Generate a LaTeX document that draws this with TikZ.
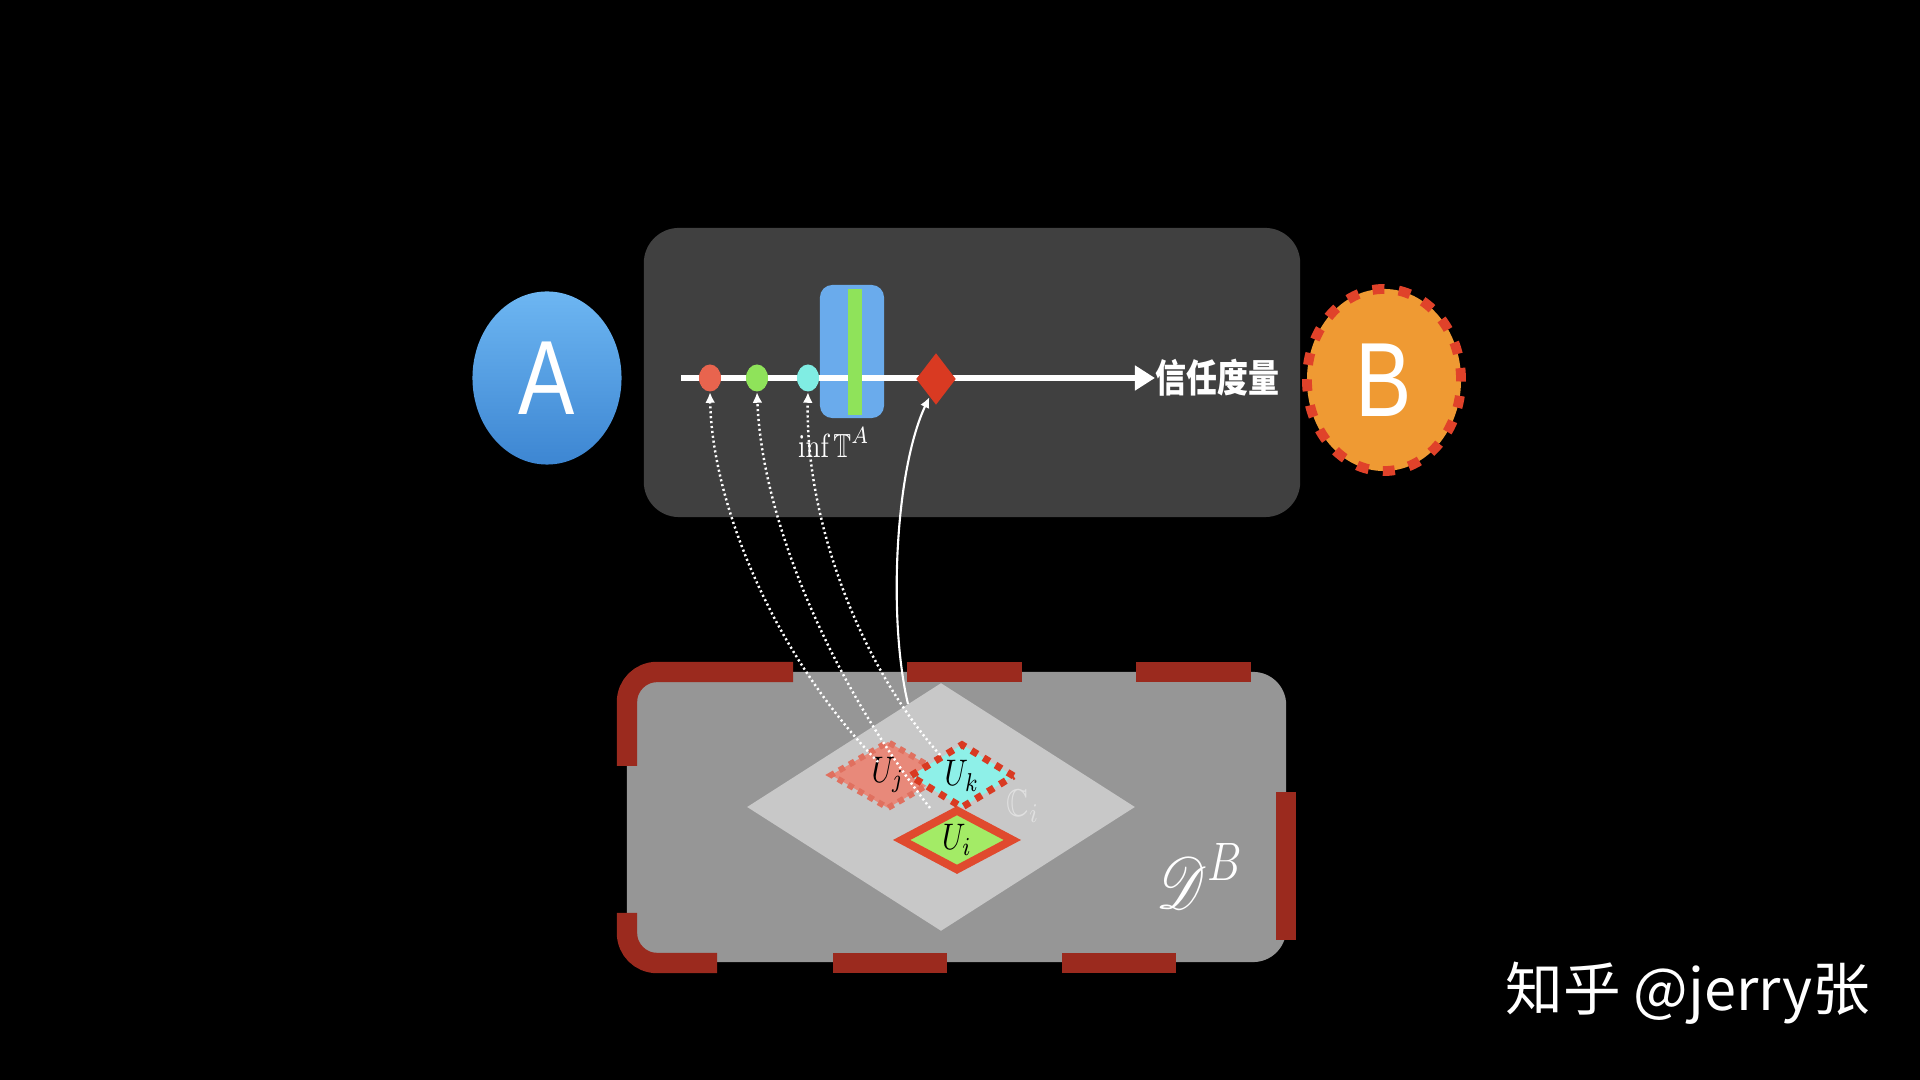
\RequirePackage{fix-cm}
\documentclass[tikz,border=0pt]{standalone}
\usepackage{fontspec}
\usepackage{amssymb}
\usepackage{mathrsfs}
\usetikzlibrary{arrows.meta, shapes.geometric}
\newfontfamily\sansA{Liberation Sans}
\newfontfamily\cjk{Noto Sans CJK SC}
\definecolor{panelgray}{HTML}{404040}
\definecolor{boxgray}{HTML}{969696}
\definecolor{cgray}{HTML}{C8C8C8}
\definecolor{rimred}{HTML}{9B2A1E}
\definecolor{atop}{HTML}{6DB6F2}
\definecolor{abot}{HTML}{3D86D2}
\definecolor{borange}{HTML}{EF9A33}
\definecolor{bdash}{HTML}{E0422A}
\definecolor{dotred}{HTML}{E8644E}
\definecolor{dotgreen}{HTML}{8FE35A}
\definecolor{dotcyan}{HTML}{80EDE3}
\definecolor{bandblue}{HTML}{6AABEC}
\definecolor{rhombred}{HTML}{D93A22}
\definecolor{ujfill}{HTML}{E8897A}
\definecolor{ujrim}{HTML}{E0705F}
\definecolor{ukfill}{HTML}{8EF0E8}
\definecolor{uifill}{HTML}{A3EB66}
\definecolor{uirim}{HTML}{E04A2E}
\tikzset{
  panel/.style={rectangle,rounded corners=10pt,fill=panelgray,inner sep=0pt},
  dotnode/.style={ellipse,minimum width=0.22cm,minimum height=0.27cm,inner sep=0pt},
  udiam/.style={diamond,inner sep=0pt,font=\fontsize{10.5}{12}\selectfont},
  axisline/.style={-{Triangle[length=5.7pt,width=6.8pt]},white,line width=1.85pt},
  ptrdot/.style={-{Latex[length=3pt,width=2.8pt]},white,line width=0.7pt,dash pattern=on 0.6pt off 0.8pt},
  ptrline/.style={-{Latex[length=3pt,width=2.8pt]},white,line width=0.6pt},
  rimdash/.style={rimred,line width=5.8pt},
}

\begin{document}
\begin{tikzpicture}[x=0.01cm,y=-0.01cm]
  \useasboundingbox (0,0) rectangle (1920,1080);
  \fill[black] (0,0) rectangle (1920,1080);
  \node[panel,minimum width=6.56cm,minimum height=2.89cm] (nPanel) at (972,372.5) {};
  \node[ellipse,top color=atop,bottom color=abot,minimum width=1.49cm,minimum height=1.73cm,inner sep=0pt,text=white] (nA) at (547,378) {\scalebox{0.8}[1]{\sansA\fontsize{30}{30}\selectfont A}};
  \node[ellipse,fill=borange,draw=bdash,line width=2.8pt,dash pattern=on 3.4pt off 4.1pt,minimum width=1.54cm,minimum height=1.82cm,inner sep=0pt,text=white] (nB) at (1384,380) {\scalebox{0.8}[1]{\sansA\fontsize{30}{30}\selectfont B}};
  \node[rectangle,rounded corners=3.5pt,fill=bandblue,minimum width=0.64cm,minimum height=1.33cm,inner sep=0pt] (nBand) at (852,351.5) {};
  \coordinate (cAx) at (681,378);
  \node[anchor=west,inner sep=0pt,text=white] (nTrust) at (1155,378) {\scalebox{0.8}[1]{\cjk\bfseries\fontsize{11}{11}\selectfont 信任度量}};
  \draw[axisline] (cAx) -- (nTrust.west);
  \node[rectangle,fill=dotgreen,minimum width=0.14cm,minimum height=1.26cm,inner sep=0pt] (nBar) at (855,352) {};
  \node[dotnode,fill=dotred] (nRed) at (710,378) {};
  \node[dotnode,fill=dotgreen] (nGreen) at (757,378) {};
  \node[dotnode,fill=dotcyan] (nCyan) at (808,378) {};
  \node[diamond,fill=rhombred,minimum width=0.4cm,minimum height=0.52cm,inner sep=0pt] (nRhomb) at (936,379) {};
  \node[anchor=base,inner sep=0pt,text=white] (nInf) at (834,458) {\scalebox{0.8}[1]{\fontsize{9.5}{11}\selectfont$\inf\mathbb{T}^A$}};

  \node[rectangle,rounded corners=9.4pt,fill=boxgray,minimum width=6.59cm,minimum height=2.90cm,inner sep=0pt] (nD) at (956.5,817) {};
  \draw[rimdash,rounded corners=8.5pt] (627,766) -- (627,672) -- (793,672);
  \draw[rimdash] (907,672) -- (1022,672);
  \draw[rimdash] (1136,672) -- (1251,672);
  \draw[rimdash] (1286,792) -- (1286,940);
  \draw[rimdash] (1176,963) -- (1062,963);
  \draw[rimdash] (947,963) -- (833,963);
  \draw[rimdash,rounded corners=8.5pt] (717,963) -- (627,963) -- (627,913);
  \node[diamond,fill=cgray,minimum width=3.88cm,minimum height=2.48cm,inner sep=0pt] (nC) at (941,807) {};
  \node[udiam,fill=ujfill,draw=ujrim,line width=1.7pt,dash pattern=on 1.7pt off 1.6pt,minimum width=1.16cm,minimum height=0.66cm] (nUj) at (888,775) {\scalebox{0.8}[1]{$U_j$}};
  \node[udiam,fill=uifill,draw=uirim,line width=2.3pt,minimum width=1.14cm,minimum height=0.62cm] (nUi) at (957,840) {\scalebox{0.8}[1]{$U_i$}};
  \node[udiam,fill=ukfill,draw=rhombred,line width=2pt,dash pattern=on 2pt off 2pt,minimum width=1.06cm,minimum height=0.62cm] (nUk) at (962,776) {\scalebox{0.8}[1]{$U_k$}};
  \node[inner sep=0pt,text=white!88!black] (nCi) at (1023,806) {\scalebox{0.8}[1]{\fontsize{11}{13}\selectfont$\mathbb{C}_i$}};
  \node[inner sep=0pt,text=white] (nDB) at (1200,876) {\scalebox{0.8}[1]{\fontsize{22}{24}\selectfont$\mathscr{D}^B$}};

  \coordinate (cUj) at (878,762);
  \coordinate (cUi) at (930,808);
  \coordinate (cUk) at (940,755);
  \coordinate (cCi) at (908,704);
  \draw[ptrdot] (cUj) .. controls (770,650) and (712,500) .. (nRed.south);
  \draw[ptrdot] (cUi) .. controls (830,680) and (762,520) .. (nGreen.south);
  \draw[ptrdot] (cUk) .. controls (860,665) and (805,520) .. (nCyan.south);
  \draw[ptrline] (cCi) .. controls (888,620) and (895,470) .. (nRhomb.250);

  \node[anchor=base west,inner sep=0pt,text=white] (nMark) at (1505,1011) {\cjk\fontsize{16.4}{17}\selectfont 知乎 @jerry张};
\end{tikzpicture}
\end{document}
